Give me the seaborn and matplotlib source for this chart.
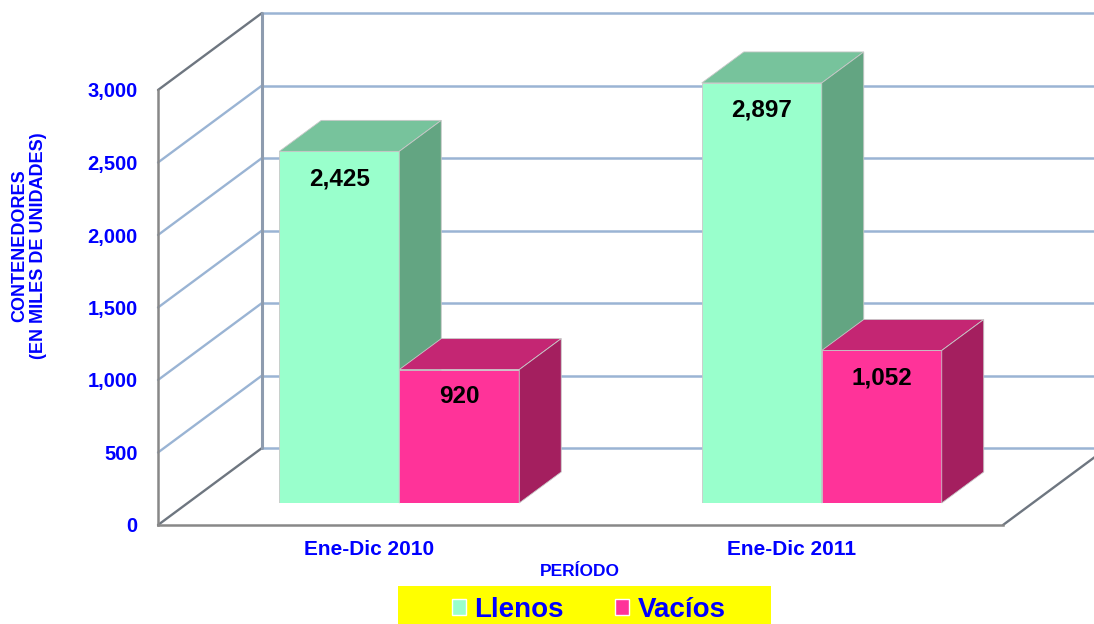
import pandas as pd
import matplotlib
matplotlib.use("Agg")
import matplotlib.pyplot as plt
from matplotlib.patches import Polygon, Rectangle, Patch
from matplotlib.ticker import FuncFormatter
import seaborn as sns

# === Data ===
periodos = ["Ene-Dic 2010", "Ene-Dic 2011"]
tipos = ["Llenos", "Vacíos"]
llenos = [2425, 2897]
vacios = [920, 1052]
y_ticks = [0, 500, 1000, 1500, 2000, 2500, 3000]

# === Style ===
BLUE = "#0000FF"
GRID = "#9AB4D4"
AXIS_GRAY = "#888888"
EDGE_DARK = "#6E7680"
front_colors = {"Llenos": "#99FFCC", "Vacíos": "#FF3399"}
top_colors = {"Llenos": "#77C39C", "Vacíos": "#C42673"}
side_colors = {"Llenos": "#63A582", "Vacíos": "#A41F5F"}

W, H = 1094, 624          # output size in px
X_LIM, Y_LIM = (-0.5, 1.5), (0, 3000)
PX_X = 845 / (X_LIM[1] - X_LIM[0])   # px per x unit
PX_Y = 435 / (Y_LIM[1] - Y_LIM[0])   # px per y unit

sns.set_style("white")
plt.rcParams["font.family"] = ["Liberation Sans", "DejaVu Sans"]
plt.rcParams["font.weight"] = "bold"
plt.rcParams["axes.labelweight"] = "bold"

df = pd.DataFrame({
    "periodo": periodos * 2,
    "tipo": [tipos[0]] * 2 + [tipos[1]] * 2,
    "valor": llenos + vacios,
})

fig = plt.figure(figsize=(W / 100, H / 100), dpi=100)

# front plane axes (axis lines, ticks, labels, walls)
ax = fig.add_axes([158 / W, (H - 525) / H, 845 / W, 435 / H])
ax.set_xlim(*X_LIM)
ax.set_ylim(*Y_LIM)

# wall depth (px -> data units)
wx, wy = 104 / PX_X, 77 / PX_Y
for v in y_ticks:
    edge = v in (Y_LIM[0], Y_LIM[1])
    ax.plot([X_LIM[0], X_LIM[0] + wx], [v, v + wy],
            color=EDGE_DARK if edge else GRID, lw=1.7, clip_on=False, zorder=1)
    ax.plot([X_LIM[0] + wx, X_LIM[1] + wx + 0.5], [v + wy, v + wy],
            color=GRID, lw=1.8, clip_on=False, zorder=1)
ax.plot([X_LIM[0] + wx] * 2, [wy, Y_LIM[1] + wy], color="#8E9CAF", lw=2.2,
        clip_on=False, zorder=1)
ax.plot([X_LIM[1], X_LIM[1] + wx], [0, wy], color=EDGE_DARK, lw=1.7,
        clip_on=False, zorder=1)

for s in ["top", "right"]:
    ax.spines[s].set_visible(False)
for s in ["left", "bottom"]:
    ax.spines[s].set_color(AXIS_GRAY)
    ax.spines[s].set_linewidth(1.8)

ax.set_yticks(y_ticks)
ax.yaxis.set_major_formatter(FuncFormatter(lambda v, p: f"{v:,.0f}"))
ax.tick_params(axis="y", length=4.5, width=1.3, color=AXIS_GRAY, pad=10,
               labelsize=14.5, labelcolor=BLUE)
ax.set_xticks([0, 1], periodos)
ax.set_xticks([-0.5, 0.5, 1.5], minor=True)
ax.tick_params(axis="x", which="major", length=0, pad=11, labelsize=15,
               labelcolor=BLUE)
ax.tick_params(axis="x", which="minor", length=4, width=1.3, color=AXIS_GRAY)

ax.set_ylabel("CONTENEDORES\n(EN MILES DE UNIDADES)", fontsize=13, color=BLUE,
              fontweight="bold", linespacing=1.1, va="center")
ax.yaxis.set_label_coords((29 - 158) / 845, (525 - 246) / 435)
ax.set_xlabel("PERÍODO", fontsize=12.5, color=BLUE, fontweight="bold", va="center")
ax.xaxis.set_label_coords((580 - 158) / 845, (525 - 572) / 435)

# bar plane axes, set back into the box
ax_b = fig.add_axes([188 / W, (H - 503) / H, 845 / W, 435 / H])
sns.barplot(data=df, x="periodo", y="valor", hue="tipo", hue_order=tipos,
            palette=front_colors, saturation=1, width=0.568, ax=ax_b,
            legend=False, edgecolor="#C8C8C8", linewidth=0.6)
ax_b.set_xlim(*X_LIM)
ax_b.set_ylim(*Y_LIM)
ax_b.axis("off")

# 3d faces of each bar
bx, by = 42 / PX_X, 31 / PX_Y
bars = []
for tipo, cont in zip(tipos, ax_b.containers):
    for bar in cont:
        bars.append((bar.get_x(), tipo, bar))
bars.sort(key=lambda b: b[0])
for i, (_, tipo, bar) in enumerate(bars):
    z = 3 + i
    x0, w, h = bar.get_x(), bar.get_width(), bar.get_height()
    bar.set_zorder(z)
    top = Polygon([(x0, h), (x0 + w, h), (x0 + w + bx, h + by), (x0 + bx, h + by)],
                  closed=True, facecolor=top_colors[tipo], edgecolor="#C8C8C8",
                  lw=0.6, zorder=z, clip_on=False)
    side = Polygon([(x0 + w, 0), (x0 + w + bx, by), (x0 + w + bx, h + by), (x0 + w, h)],
                   closed=True, facecolor=side_colors[tipo], edgecolor="#C8C8C8",
                   lw=0.6, zorder=z, clip_on=False)
    ax_b.add_patch(top)
    ax_b.add_patch(side)

for cont in ax_b.containers:
    labels = ax_b.bar_label(cont, labels=[f"{v:,.0f}" for v in cont.datavalues],
                            padding=-28, fontsize=17.5, color="black")
    for t in labels:
        t.set_zorder(20)

# legend on yellow band
fig.add_artist(Rectangle((398 / W, 0), 373 / W, 38 / H, transform=fig.transFigure,
                         facecolor="#FFFF00", edgecolor="none"))
handles = [Patch(facecolor=front_colors[t]) for t in tipos]
fig.legend(handles, tipos, loc="center", bbox_to_anchor=(589 / W, (H - 610) / H),
           ncol=2, frameon=False, fontsize=20, handlelength=0.5, handleheight=0.5,
           handletextpad=0.32, columnspacing=1.85, labelcolor=BLUE)

fig.savefig("out.png", dpi=100)
